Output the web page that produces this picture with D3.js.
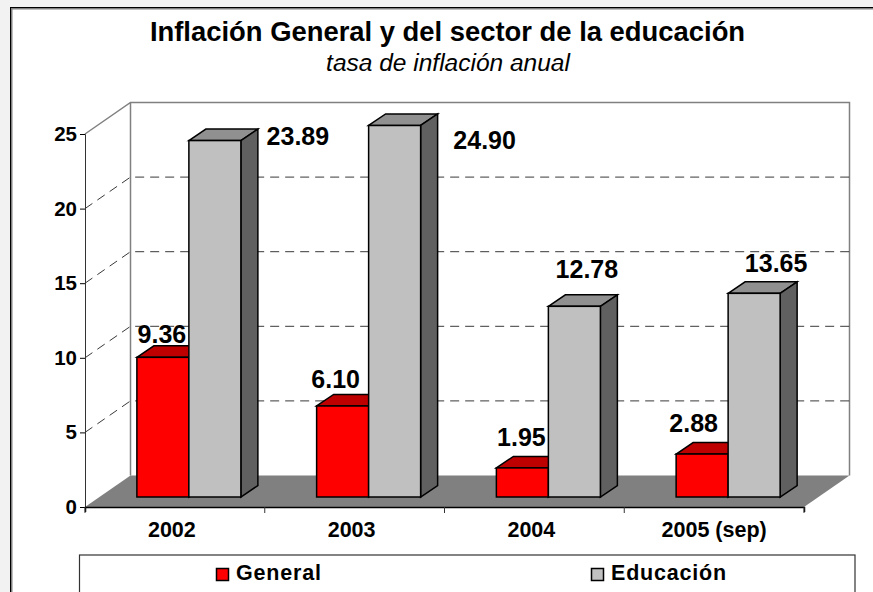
<!DOCTYPE html>
<html>
<head>
<meta charset="UTF-8">
<script src="https://d3js.org/d3.v7.min.js"></script>
<style>
html, body { margin: 0; padding: 0; background: #f2f2f2; }
svg { display: block; font-family: "Liberation Sans", Arial, sans-serif; }
</style>
</head>
<body>
<svg width="873" height="592"></svg>
<script>
var categories = ["2002", "2003", "2004", "2005 (sep)"];
var general = [9.36, 6.10, 1.95, 2.88];
var educacion = [23.89, 24.90, 12.78, 13.65];
var yTicks = [0, 5, 10, 15, 20, 25];

var svg = d3.select("svg");

var x0 = 85, x1 = 804, y0 = 507, y1 = 134;
// offset of the back wall from the front plane
var depth = {x: 45.5, y: -31.5};
// offset of the front face of the bars, and how deep they are
var inset = {x: 14, y: -10};
var barDepth = {x: 17, y: -11.5};

var x = d3.scaleBand().domain(categories).range([x0, x1]);
var y = d3.scaleLinear().domain([0, 25]).range([y0, y1]);
var barX = d3.scaleBand().domain(["general", "educacion"]).range([0, 104]);

function poly(pts) {
  return pts.map(function(p) { return p.join(","); }).join(" ");
}

// chart frame, runs off the right and bottom of the picture
svg.append("rect").attr("x", 11.5).attr("y", 8.5).attr("width", 900).attr("height", 700)
  .attr("fill", "#fff").attr("stroke", "#808080").attr("stroke-width", 2);
svg.append("rect").attr("x", 10.5).attr("y", 7.5).attr("width", 900).attr("height", 700)
  .attr("fill", "none").attr("stroke", "#000").attr("stroke-width", 1);

// walls
svg.append("path")
  .attr("d", "M" + x0 + "," + y(25) + "L" + (x0 + depth.x) + "," + (y(25) + depth.y) +
    "H" + (x1 + depth.x) + "V" + (y(0) + depth.y) + "M" + (x0 + depth.x) + "," + (y(25) + depth.y) +
    "V" + (y(0) + depth.y))
  .attr("fill", "none").attr("stroke", "#808080").attr("stroke-width", 1.5);

// floor
svg.append("polygon")
  .attr("points", poly([[x0, y0], [x0 + depth.x, y0 + depth.y], [x1 + depth.x, y0 + depth.y], [x1, y0]]))
  .attr("fill", "#808080");

// gridlines
[5, 10, 15, 20].forEach(function(t) {
  svg.append("path")
    .attr("d", "M" + x0 + "," + y(t) + "L" + (x0 + depth.x) + "," + (y(t) + depth.y) + "H" + (x1 + depth.x))
    .attr("fill", "none").attr("stroke", "#222").attr("stroke-width", 0.9)
    .attr("stroke-dasharray", "9,6");
});

// axes
var axisY = svg.append("g").attr("transform", "translate(" + x0 + ",0)")
  .call(d3.axisLeft(y).tickValues(yTicks).tickSize(5).tickPadding(3));
axisY.selectAll("text").attr("font-size", 20.5).attr("font-weight", "bold").attr("fill", "#000")
  .attr("font-family", "Liberation Sans");
axisY.select(".domain").attr("stroke", "#333");

var axisX = svg.append("g").attr("transform", "translate(0," + y0 + ")")
  .call(d3.axisBottom(x).tickSize(5).tickPadding(10));
axisX.selectAll(".tick").remove();
axisX.select(".domain").attr("stroke", "#000").attr("stroke-width", 1.5);
categories.concat(["end"]).forEach(function(c, i) {
  var px = i < categories.length ? x(c) : x1;
  axisX.append("line").attr("x1", px).attr("x2", px).attr("y1", 0).attr("y2", 6).attr("stroke", "#333");
});
var catDx = [-3, -3, -3, 0];
axisX.selectAll("text.cat").data(categories).enter().append("text")
  .attr("class", "cat")
  .attr("x", function(d, i) { return x(d) + x.bandwidth() / 2 + catDx[i]; })
  .attr("y", 30).attr("text-anchor", "middle").attr("font-family", "Liberation Sans")
  .attr("font-size", 21.5).attr("font-weight", "bold").attr("fill", "#000")
  .text(function(d) { return d; });

// one 3d bar: top and side first, front last
function bar3d(px, w, val, front, top, side) {
  var yT = y(val) + inset.y, yB = y0 + inset.y;
  var g = svg.append("g").attr("stroke", "#000").attr("stroke-width", 1.5).attr("stroke-linejoin", "miter");
  g.append("polygon").attr("fill", top)
    .attr("points", poly([[px, yT], [px + barDepth.x, yT + barDepth.y], [px + w + barDepth.x, yT + barDepth.y], [px + w, yT]]));
  g.append("polygon").attr("fill", side)
    .attr("points", poly([[px + w, yT], [px + w + barDepth.x, yT + barDepth.y], [px + w + barDepth.x, yB + barDepth.y], [px + w, yB]]));
  g.append("rect").attr("x", px).attr("y", yT).attr("width", w).attr("height", yB - yT).attr("fill", front);
}

categories.forEach(function(c, i) {
  var start = x(c) + (x.bandwidth() - 104) / 2 + inset.x;
  bar3d(start + barX("general"), barX.bandwidth(), general[i], "#ff0000", "#bf0000", "#800000");
  bar3d(start + barX("educacion"), barX.bandwidth(), educacion[i], "#c0c0c0", "#909090", "#606060");
});

// value labels, placed by hand as in the original chart
var genLabelDx = [-27, -33, -27, -34.5];
var genLabelDy = [-14, -18, -22, -22];
var eduLabelDx = [30, 37, -40.5, -31];
var eduLabelDy = [4, 23.5, -28, -21];

function valueLabel(px, py, txt) {
  svg.append("text").attr("x", px).attr("y", py).attr("text-anchor", "middle")
    .attr("font-size", 25).attr("font-weight", "bold").attr("fill", "#000").text(txt);
}
categories.forEach(function(c, i) {
  var start = x(c) + (x.bandwidth() - 104) / 2 + inset.x;
  valueLabel(start + 52 + genLabelDx[i], y(general[i]) + inset.y + genLabelDy[i], general[i].toFixed(2));
  valueLabel(start + 131 + eduLabelDx[i], y(educacion[i]) + inset.y + eduLabelDy[i], educacion[i].toFixed(2));
});

// titles
svg.append("text").attr("x", 447.5).attr("y", 41).attr("text-anchor", "middle")
  .attr("font-size", 27.4).attr("font-weight", "bold").attr("fill", "#000")
  .text("Inflación General y del sector de la educación");
svg.append("text").attr("x", 448).attr("y", 71).attr("text-anchor", "middle")
  .attr("font-size", 24.5).attr("font-style", "italic").attr("fill", "#000")
  .text("tasa de inflación anual");

// legend
svg.append("rect").attr("x", 79.5).attr("y", 555).attr("width", 775.5).attr("height", 50)
  .attr("fill", "#fff").attr("stroke", "#333").attr("stroke-width", 1.2);
var legendNames = ["General", "Educación"];
var legendColors = ["#ff0000", "#c0c0c0"];
var legendX = d3.scaleOrdinal().domain(legendNames).range([216.5, 591.5]);
legendNames.forEach(function(n, i) {
  svg.append("rect").attr("x", legendX(n)).attr("y", 568.5).attr("width", 12).attr("height", 12)
    .attr("fill", legendColors[i]).attr("stroke", "#000").attr("stroke-width", 1.5);
  svg.append("text").attr("x", legendX(n) + 19.5).attr("y", 580)
    .attr("font-size", 21.5).attr("font-weight", "bold").attr("fill", "#000").attr("letter-spacing", 0.8)
    .text(n);
});
</script>
</body>
</html>
